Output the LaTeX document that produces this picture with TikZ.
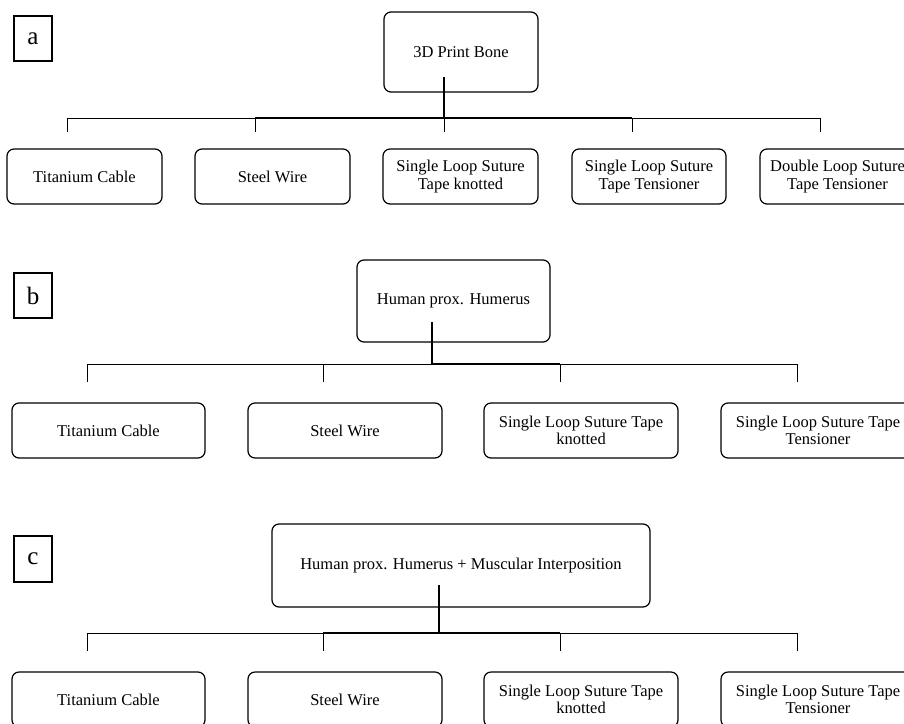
\documentclass[tikz,border=0pt]{standalone}
\usepackage{fontspec}
\setmainfont{Liberation Serif}
\begin{document}
\begin{tikzpicture}[x=1pt,y=-1pt,
  box/.style={draw,line width=1.2pt,rounded corners=7pt,align=center,inner sep=0pt,
    font=\fontsize{16.5}{17.5}\selectfont},
  lbl/.style={draw,line width=1.1pt,inner sep=0pt,minimum width=38pt,minimum height=45pt,
    font=\fontsize{25}{25}\selectfont},
  thin/.style={line width=1pt},
  heavy/.style={line width=1.9pt},
  stemline/.style={line width=1.8pt}]
\useasboundingbox (0,0) rectangle (904,723);
\clip (0,0) rectangle (904,723);
\fill[white] (0,0) rectangle (904,723);

% ---------- panel a ----------
\node[lbl] (la) at (33,38.5) {a};
\node[box,minimum width=154pt,minimum height=80pt] (ra) at (461,52) {3D Print Bone};
\node[box,minimum width=155pt,minimum height=55pt] (a1) at (84.5,176.5) {Titanium Cable};
\node[box,minimum width=155pt,minimum height=55pt] (a2) at (272.5,176.5) {Steel Wire};
\node[box,minimum width=155pt,minimum height=55pt] (a3) at (460.5,176.5) {Single Loop Suture\\Tape knotted};
\node[box,minimum width=154pt,minimum height=55pt] (a4) at (649,176.5) {Single Loop Suture\\Tape Tensioner};
\node[box,minimum width=155pt,minimum height=55pt] (a5) at (837.5,176.5) {Double Loop Suture\\Tape Tensioner};
\coordinate (sa) at (444,77);
\coordinate (ba) at (444,118);
\coordinate (ba1) at (67,118);  \coordinate (da1) at (67,132);
\coordinate (ba2) at (255,118); \coordinate (da2) at (255,132);
\coordinate (da3) at (444,132);
\coordinate (ba4) at (632,118); \coordinate (da4) at (632,132);
\coordinate (ba5) at (820,118); \coordinate (da5) at (820,132);
\draw[thin] (ba1) -- (ba5);
\draw[heavy] (ba2) -- (ba4);
\draw[stemline] (sa) -- (ba);
\draw[thin] (ba1) -- (da1);
\draw[thin] (ba2) -- (da2);
\draw[thin] (ba) -- (da3);
\draw[thin] (ba4) -- (da4);
\draw[thin] (ba5) -- (da5);

% ---------- panel b ----------
\node[lbl] (lb) at (33,295.5) {b};
\node[box,minimum width=193pt,minimum height=82pt] (rb) at (453.5,301) {Human prox. Humerus};
\node[box,minimum width=193pt,minimum height=55pt] (b1) at (108.5,430.5) {Titanium Cable};
\node[box,minimum width=194pt,minimum height=55pt] (b2) at (345,430.5) {Steel Wire};
\node[box,minimum width=194pt,minimum height=55pt] (b3) at (581,430.5) {Single Loop Suture Tape\\knotted};
\node[box,minimum width=194pt,minimum height=55pt] (b4) at (818,430.5) {Single Loop Suture Tape\\Tensioner};
\coordinate (sb) at (432,322);
\coordinate (bb) at (432,364);
\coordinate (bb1) at (87,364);  \coordinate (db1) at (87,382);
\coordinate (bb2) at (323,364); \coordinate (db2) at (323,382);
\coordinate (bb3) at (560,364); \coordinate (db3) at (560,382);
\coordinate (bb4) at (797,364); \coordinate (db4) at (797,382);
\draw[thin] (bb1) -- (bb4);
\draw[heavy] (bb) -- (bb3);
\draw[stemline] (sb) -- (bb);
\draw[thin] (bb1) -- (db1);
\draw[thin] (bb2) -- (db2);
\draw[thin] (bb3) -- (db3);
\draw[thin] (bb4) -- (db4);

% ---------- panel c ----------
\node[lbl,minimum height=46pt] (lc) at (33,559) {c};
\node[box,minimum width=378pt,minimum height=83pt] (rc) at (461,565.5) {Human prox. Humerus + Muscular Interposition};
\node[box,minimum width=193pt,minimum height=55pt] (c1) at (108.5,699.5) {Titanium Cable};
\node[box,minimum width=194pt,minimum height=55pt] (c2) at (345,699.5) {Steel Wire};
\node[box,minimum width=194pt,minimum height=55pt] (c3) at (581,699.5) {Single Loop Suture Tape\\knotted};
\node[box,minimum width=194pt,minimum height=55pt] (c4) at (818,699.5) {Single Loop Suture Tape\\Tensioner};
\coordinate (sc) at (439,585);
\coordinate (bc) at (439,633);
\coordinate (bc1) at (87,633);  \coordinate (dc1) at (87,651);
\coordinate (bc2) at (323,633); \coordinate (dc2) at (323,651);
\coordinate (bc3) at (560,633); \coordinate (dc3) at (560,651);
\coordinate (bc4) at (797,633); \coordinate (dc4) at (797,651);
\draw[thin] (bc1) -- (bc4);
\draw[heavy] (bc2) -- (bc3);
\draw[stemline] (sc) -- (bc);
\draw[thin] (bc1) -- (dc1);
\draw[thin] (bc2) -- (dc2);
\draw[thin] (bc3) -- (dc3);
\draw[thin] (bc4) -- (dc4);
\end{tikzpicture}
\end{document}
